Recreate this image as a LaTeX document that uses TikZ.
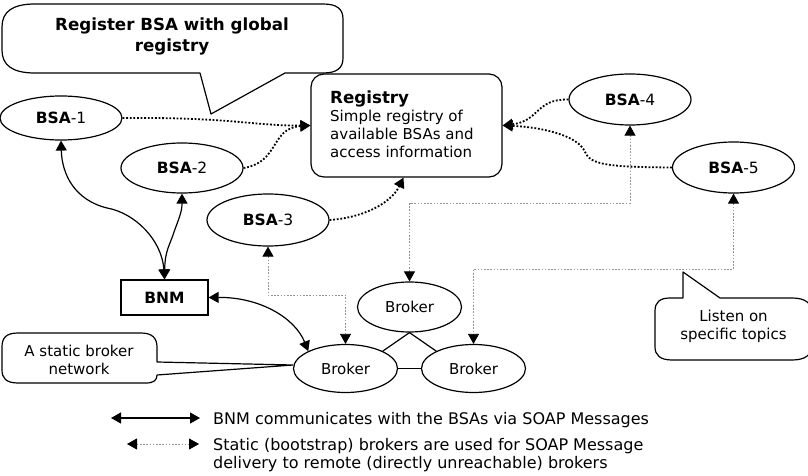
\documentclass[tikz,border=0pt]{standalone}
\usepackage{fontspec}
\setmainfont{DejaVu Sans}
\usetikzlibrary{shapes.geometric,arrows.meta}
\begin{document}
\begin{tikzpicture}[x=1pt,y=-1pt,
  every node/.style={inner sep=0pt},
  lbl/.style={font=\fontsize{15.5}{18}\selectfont},
  txt/.style={font=\fontsize{15}{18}\selectfont},
  legtxt/.style={font=\fontsize{16}{18}\selectfont},
  big/.style={font=\fontsize{16.7}{21}\selectfont\bfseries},
  ell/.style={draw, ellipse, line width=1.2pt, minimum width=122pt, lbl},
  brk/.style={draw, ellipse, line width=1.2pt, minimum width=104pt, minimum height=48pt, txt},
  balloon/.style={draw, line width=1.2pt, line join=round, fill=white},
  solidarr/.style={line width=1.2pt, {Triangle[length=10pt,width=11pt]}-{Triangle[length=10pt,width=11pt]}},
  regarr/.style={line width=1.8pt, dash pattern=on 1.8pt off 1.8pt, -{Triangle[length=10pt,width=11pt]}},
  grayarr/.style={draw=black!42, line width=0.8pt, dash pattern=on 1.6pt off 1.6pt,
    {Triangle[length=10pt,width=11pt,color=black]}-{Triangle[length=10pt,width=11pt,color=black]}}
]
\useasboundingbox (0,0) rectangle (808,476);

% callout: register
\draw[balloon] (200,73) -- (211,114) -- (285,73) -- (323,73)
  .. controls (337,73) and (343,68) .. (343,58) -- (343,19)
  .. controls (343,9) and (337,4) .. (323,4) -- (35,4)
  .. controls (12,4) and (2,12) .. (2,27) -- (2,50)
  .. controls (2,65) and (12,73) .. (35,73) -- cycle;
\node[big, align=center, anchor=north] (regcall) at (172,18) {Register BSA with global\\registry};

% callout: static broker network
\coordinate (tip1) at (293,365);
\draw[balloon] (157,362) -- (tip1) -- (157,375)
  .. controls (157,380) and (154,383) .. (146,383) -- (18,383)
  .. controls (6,383) and (2,378) .. (2,370) -- (2,347)
  .. controls (2,338) and (6,333) .. (18,333) -- (141,333)
  .. controls (152,333) and (157,338) .. (157,347) -- cycle;
\node[txt, align=center, anchor=north] (statcall) at (79,344.6) {A static broker\\network};

% callout: listen
\draw[balloon] (683,298) -- (683,272) -- (720,298) -- (792,298)
  .. controls (805,298) and (812,303) .. (812,313) -- (812,345)
  .. controls (812,355) and (805,360) .. (792,360) -- (672,360)
  .. controls (660,360) and (655,355) .. (655,347) -- (655,311)
  .. controls (655,302) and (660,298) .. (670,298) -- cycle;
\node[txt, align=center, anchor=north] (listcall) at (733.5,310.3) {Listen on\\specific topics};

% nodes
\node[ell, minimum height=44pt] (b1) at (61,118) {\textbf{BSA}-1};
\node[ell, minimum height=50pt] (b2) at (182,168) {\textbf{BSA}-2};
\node[ell, minimum height=52pt] (b3) at (268,220) {\textbf{BSA}-3};
\node[ell, minimum height=51pt] (b4) at (630,99.5) {\textbf{BSA}-4};
\node[ell, minimum height=51pt] (b5) at (733.5,167.5) {\textbf{BSA}-5};
\node[draw, line width=1.2pt, minimum width=87pt, minimum height=35pt, lbl] (bnm) at (164.5,297.5) {\textbf{BNM}};
\node[draw, line width=1.2pt, rounded corners=13pt, minimum width=191pt, minimum height=103pt] (reg) at (406.5,125.5) {};
\node[txt, align=left, anchor=north west] (regtxt) at (330,90.6)
  {{\fontsize{16.7}{18}\selectfont\bfseries Registry}\\Simple registry of\\available BSAs and\\access information};
\node[brk, minimum height=50pt] (bT) at (409.5,307) {Broker};
\node[brk] (bL) at (345.5,368.5) {Broker};
\node[brk] (bR) at (473.5,368.5) {Broker};

% registry connectors
\draw[regarr] (b1.east) .. controls (230,117) and (255,126) .. (reg.west);
\draw[regarr] (b2.east) .. controls (280,162) and (270,128) .. (reg.west);
\draw[regarr] (b3.east) .. controls (360,218) and (390,205) .. ([xshift=-3pt]reg.south);
\draw[regarr] (b4.west) .. controls (535,99) and (540,121) .. (reg.east);
\draw[regarr] (b5.west) .. controls (610,167) and (590,165) .. (585,152)
  .. controls (578,135) and (540,127) .. (reg.east);

% BNM connectors
\draw[solidarr] (bnm.north) .. controls (162,240) and (135,213) .. (107,208)
  .. controls (75,200) and (62,175) .. (b1.south);
\draw[solidarr] (bnm.north) .. controls (165,250) and (170,245) .. (174,232)
  .. controls (179,218) and (182,212) .. (b2.south);
\draw[solidarr] (bnm.east) .. controls (260,297) and (295,318) .. (bL.155);

% static broker connectors
\coordinate (h3) at (0,295);
\coordinate (h4) at (0,203);
\coordinate (h5) at (0,269);
\draw[grayarr] (b3.south) -- (b3.south |- h3) -| (bL.north);
\draw[grayarr] (b4.south) -- (b4.south |- h4) -| (bT.north);
\draw[grayarr] (b5.south) -- (b5.south |- h5) -| (bR.north);

% broker network
\draw[line width=1.2pt] (bL.25) -- (bT.south) -- (bR.155);
\draw[line width=1.2pt] (bL.east) -- (bR.west);

% legend
\coordinate (l1a) at (111,418);
\coordinate (l1b) at (200,418);
\coordinate (l2a) at (127,444);
\coordinate (l2b) at (199,444);
\draw[solidarr] (l1a) -- (l1b);
\draw[grayarr] (l2a) -- (l2b);
\node[legtxt, anchor=base west] (leg1) at (213,424) {BNM communicates with the BSAs via SOAP Messages};
\node[legtxt, anchor=north west, align=left] (leg2) at (213,438)
  {Static (bootstrap) brokers are used for SOAP Message\\delivery to remote (directly unreachable) brokers};
\end{tikzpicture}
\end{document}
